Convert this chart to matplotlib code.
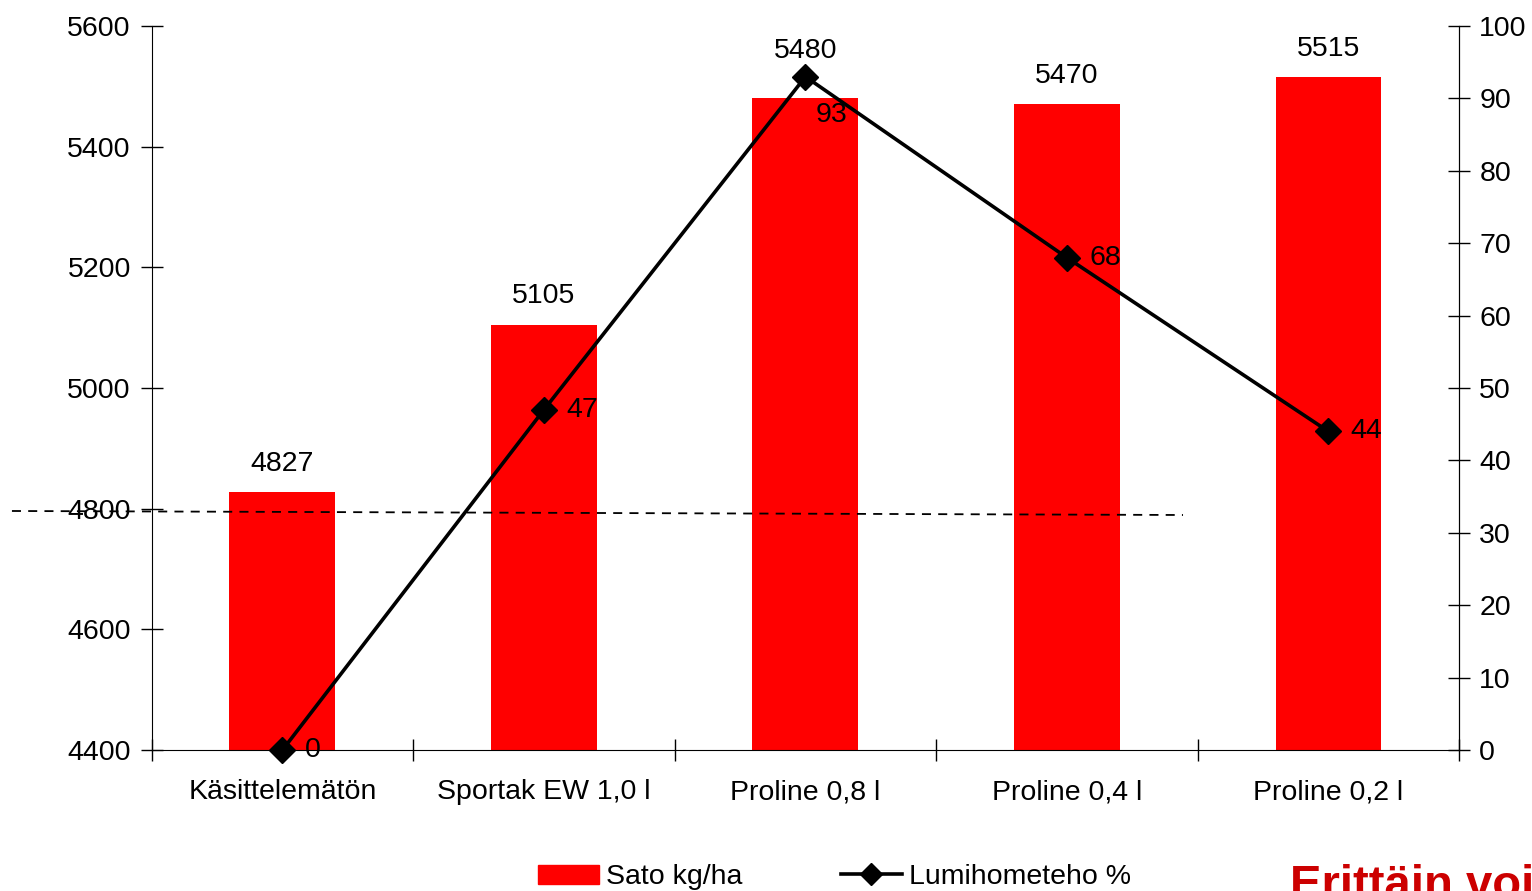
import matplotlib.pyplot as plt
from matplotlib.lines import Line2D
import numpy as np

plt.rcParams['font.family'] = ['Liberation Sans', 'DejaVu Sans']

# chart data
categories = ["Käsittelemätön", "Sportak EW 1,0 l", "Proline 0,8 l", "Proline 0,4 l", "Proline 0,2 l"]
sato = [4827, 5105, 5480, 5470, 5515]
lumihome = [0, 47, 93, 68, 44]

fs = 20.5

fig = plt.figure(figsize=(15.32, 8.91), dpi=100)
ax = fig.add_axes([0.0990, 0.1582, 0.8535, 0.8126])
ax2 = ax.twinx()

x = np.arange(len(categories))

# bars: yield on left axis
ax.bar(x, sato, width=0.405, color='#FF0000', zorder=2)
ax.set_ylim(4400, 5600)
ax.set_xlim(-0.5, len(categories) - 0.5)
ax.set_yticks(range(4400, 5601, 200))
for i, (xi, v) in enumerate(zip(x, sato)):
    # the 5480 label sits higher to clear the line marker
    off = 78 if i == 2 else 47
    ax.text(xi, v + off, str(v), ha='center', va='center', fontsize=fs)

# line: snow mould efficacy on right axis
ax2.plot(x, lumihome, color='black', lw=2.6, marker='D', markersize=13,
         clip_on=False, zorder=5)
ax2.set_ylim(0, 100)
ax2.set_yticks(range(0, 101, 10))
for i, (xi, v) in enumerate(zip(x, lumihome)):
    if i == 2:
        ax2.text(xi + 0.1, v - 5.3, str(v), ha='center', va='center', fontsize=fs)
    else:
        ax2.text(xi + 0.085, v, str(v), ha='left', va='center', fontsize=fs)

# x ticks at category boundaries, labels in the middle
ax.set_xticks(np.arange(-0.5, len(categories), 1.0))
ax.set_xticklabels([])
ax.set_xticks(x, minor=True)
ax.set_xticklabels(categories, minor=True, fontsize=fs)
ax.tick_params(axis='x', which='minor', length=0, pad=21)
ax.tick_params(axis='x', which='major', direction='inout', length=16, width=1)
ax.tick_params(axis='y', direction='inout', length=16, width=1, labelsize=fs, pad=7)
ax2.tick_params(axis='y', direction='inout', length=16, width=1, labelsize=fs, pad=6.5)

for a in (ax, ax2):
    a.spines['top'].set_visible(False)
ax2.spines['bottom'].set_visible(False)
ax2.spines['left'].set_visible(False)

# dashed reference line across the figure
fig.add_artist(Line2D([0.0078, 0.7722], [0.4265, 0.4220], transform=fig.transFigure,
                      color='black', lw=1.3, linestyle=(0, (5, 4)), zorder=10))

# legend
handles = [plt.Rectangle((0, 0), 1, 1, color='#FF0000'),
           Line2D([], [], color='black', lw=2.6, marker='D', markersize=11)]
fig.legend(handles, ["Sato kg/ha", "Lumihometeho %"], loc='center',
           bbox_to_anchor=(0.5447, 0.0155), ncol=2, frameon=False, fontsize=fs,
           handlelength=2.14, handleheight=0.65, handletextpad=0.25,
           columnspacing=3.44, borderpad=0)

fig.text(0.842, -0.0079, "Erittäin voimakas", color='#CC0000', fontsize=34,
         fontweight='bold', ha='left', va='baseline')

fig.savefig("out.png", dpi=100)
